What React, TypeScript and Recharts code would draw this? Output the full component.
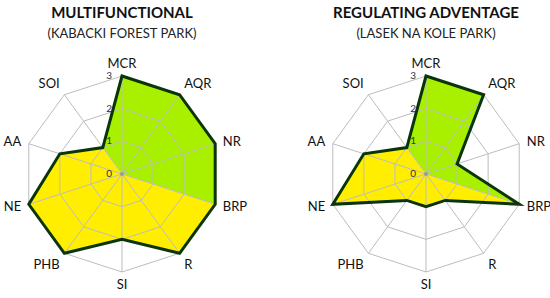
import { RadarChart, Radar, PolarGrid, PolarAngleAxis, PolarRadiusAxis } from 'recharts'

const AXES = ['MCR', 'AQR', 'NR', 'BRP', 'R', 'SI', 'PHB', 'NE', 'AA', 'SOI']

// scores per axis, in the order of AXES
const kabackiScores = [3, 3, 3, 3, 3, 2, 3, 3, 2, 1]
const lasekScores = [3, 3, 1, 3, 1, 1, 1, 3, 2, 1]

// regulating services (green) vs the rest (yellow)
const REGULATING = ['SOI', 'MCR', 'AQR', 'NR', 'BRP']
const OTHER = ['BRP', 'R', 'SI', 'PHB', 'NE', 'AA', 'SOI']

const GREEN = '#a8f000'
const YELLOW = '#ffee00'
const OUTLINE = '#0a350a'
const GRID = '#bdbdbd'

const FONT = 'Lato, "Open Sans", sans-serif'

function buildData(scores: number[]) {
  return AXES.map((axis, i) => ({
    axis,
    total: scores[i],
    green: REGULATING.includes(axis) ? scores[i] : 0,
    yellow: OTHER.includes(axis) ? scores[i] : 0,
  }))
}

// radius tick: small number just left of the vertical spoke
const RadiusTick = (props: any) => {
  const { x, y, payload } = props
  return (
    <text x={x - 10} y={y + 3} textAnchor="end" fontSize={10} fill="#333" fontFamily={FONT}>
      {payload.value}
    </text>
  )
}

interface ParkRadarProps {
  title: string
  subtitle: string
  scores: number[]
  left: number
  cx: number
}

function ParkRadar({ title, subtitle, scores, left, cx }: ParkRadarProps) {
  const data = buildData(scores)
  const common = {
    width: 275,
    height: 298,
    data,
    cx,
    cy: 174,
    outerRadius: 98,
    startAngle: 90,
    endAngle: -270,
  }
  return (
    <div style={{ position: 'absolute', left, top: 0, width: 275, height: 298 }}>
      <div
        style={{
          position: 'absolute',
          left: cx - 120,
          width: 240,
          top: 3,
          textAlign: 'center',
          fontFamily: FONT,
          fontWeight: 700,
          fontSize: 15,
          color: '#111',
        }}
      >
        {title}
      </div>
      <div
        style={{
          position: 'absolute',
          left: cx - 120,
          width: 240,
          top: 25,
          textAlign: 'center',
          fontFamily: FONT,
          fontSize: 13,
          color: '#222',
        }}
      >
        {subtitle}
      </div>
      {/* fills underneath */}
      <div style={{ position: 'absolute', left: 0, top: 0 }}>
        <RadarChart {...common}>
          <PolarAngleAxis dataKey="axis" tick={false} axisLine={false} tickLine={false} />
          <PolarRadiusAxis angle={90} domain={[0, 3]} tickCount={4} tick={false} axisLine={false} tickLine={false} />
          <Radar dataKey="green" stroke="none" fill={GREEN} fillOpacity={1} isAnimationActive={false} />
          <Radar dataKey="yellow" stroke="none" fill={YELLOW} fillOpacity={1} isAnimationActive={false} />
        </RadarChart>
      </div>
      {/* grid, outline and labels on top */}
      <div style={{ position: 'absolute', left: 0, top: 0 }}>
        <RadarChart {...common}>
          <PolarGrid gridType="polygon" stroke={GRID} />
          <Radar
            dataKey="total"
            stroke={OUTLINE}
            strokeWidth={3}
            fill="none"
            fillOpacity={0}
            isAnimationActive={false}
          />
          <PolarAngleAxis
            dataKey="axis"
            tick={{ fontSize: 13, fill: '#111', fontFamily: FONT }}
            tickLine={false}
            axisLine={false}
          />
          <PolarRadiusAxis
            angle={90}
            domain={[0, 3]}
            tickCount={4}
            axisLine={false}
            tickLine={false}
            tick={RadiusTick}
          />
        </RadarChart>
      </div>
      <div
        style={{
          position: 'absolute',
          left: cx - 2,
          top: 172,
          width: 4,
          height: 4,
          borderRadius: 2,
          background: '#9a9a9a',
        }}
      />
    </div>
  )
}

export default function App() {
  return (
    <div style={{ position: 'absolute', left: 0, top: 0, width: 550, height: 298, background: '#fff' }}>
      <ParkRadar
        title="MULTIFUNCTIONAL"
        subtitle="(KABACKI FOREST PARK)"
        scores={kabackiScores}
        left={0}
        cx={122}
      />
      <ParkRadar
        title="REGULATING  ADVENTAGE"
        subtitle="(LASEK NA KOLE PARK)"
        scores={lasekScores}
        left={275}
        cx={151}
      />
    </div>
  )
}
